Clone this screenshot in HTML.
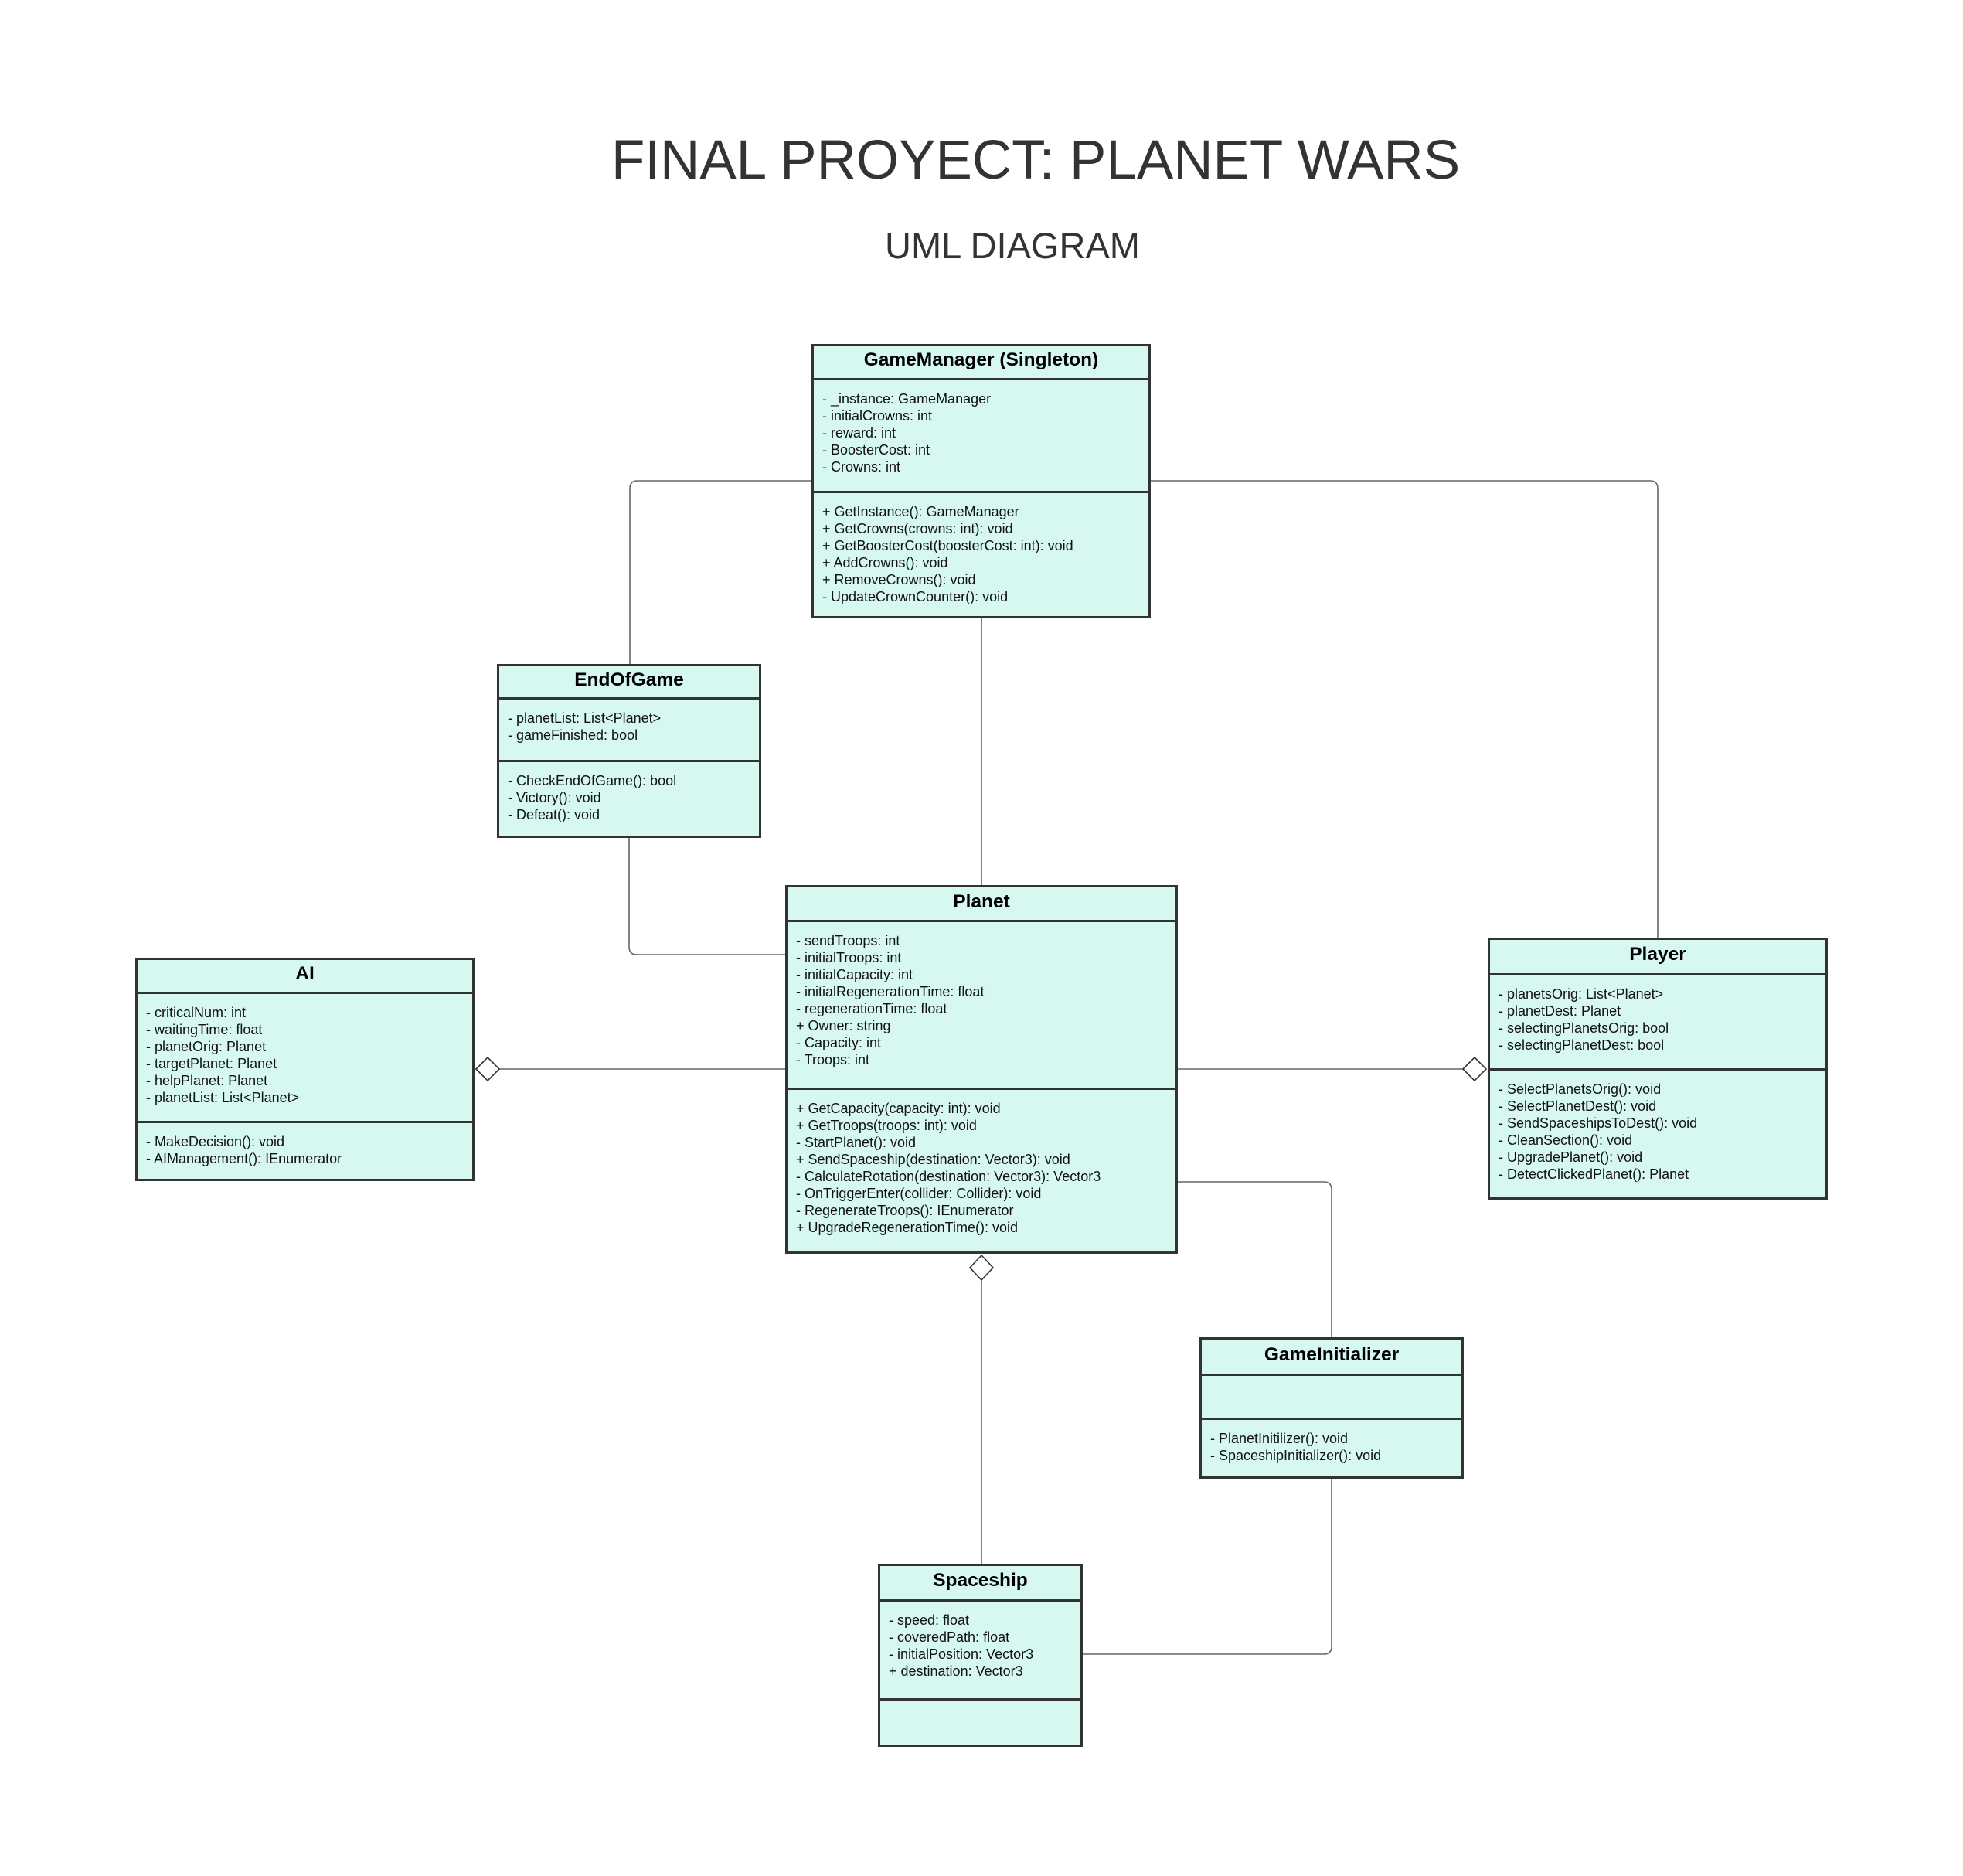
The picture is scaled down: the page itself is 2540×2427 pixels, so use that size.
<!DOCTYPE html>
<html><head><meta charset="utf-8"><style>
body{margin:0;width:2540px;height:2427px;background:#fff;position:relative;overflow:hidden;font-family:"Liberation Sans",Arial,sans-serif;}
.t{position:absolute;color:#333;white-space:nowrap;transform:translateX(-50%);line-height:1;}
.box{position:absolute;border:3px solid #333;box-sizing:border-box;background:#d6f8f1;display:flex;flex-direction:column;}
.h{box-sizing:border-box;border-bottom:3px solid #333;font-weight:bold;font-size:24.5px;color:#000;display:flex;align-items:center;justify-content:center;flex:none;padding-bottom:5px;}
.a{box-sizing:border-box;border-bottom:3px solid #333;flex:none;}
.a,.m{padding:13px 11px 0 11px;font-size:18px;line-height:22px;color:#111;white-space:pre;}
.m{flex:1;}
svg{position:absolute;left:0;top:0;}
</style></head><body>
<svg width="2540" height="2427">
<g fill="none" stroke="#666" stroke-width="1.6">
<path d="M1050 622 H825 Q815 622 815 632 V859"/>
<path d="M1489 622 H2135 Q2145 622 2145 632 V1213"/>
<path d="M1270 800 V1145"/>
<path d="M814 1084 V1225 Q814 1235 824 1235 H1016"/>
<path d="M646 1383 H1016"/>
<path d="M1524 1383 H1893"/>
<path d="M1270 1656 V2023"/>
<path d="M1524 1529 H1713 Q1723 1529 1723 1539 V1730"/>
<path d="M1723 1913 V2130 Q1723 2140 1713 2140 H1401"/>
</g>
<g fill="#fff" stroke="#333" stroke-width="1.6">
<path d="M616 1383 L631 1368 L646 1383 L631 1398 Z"/>
<path d="M1893 1383 L1908 1368 L1923 1383 L1908 1398 Z"/>
<path d="M1270 1624 L1285 1640 L1270 1656 L1255 1640 Z"/>
</g>
</svg>
<div class="t" style="left:1340px;top:172px;font-size:71px;">FINAL PROYECT: PLANET WARS</div>
<div class="t" style="left:1310px;top:294px;font-size:47px;">UML DIAGRAM</div>

<div class="box" style="left:1050px;top:445px;width:439px;height:355px;">
<div class="h" style="height:44px;">GameManager (Singleton)</div>
<div class="a" style="height:146px;">- _instance: GameManager
- initialCrowns: int
- reward: int
- BoosterCost: int
- Crowns: int</div>
<div class="m">+ GetInstance(): GameManager
+ GetCrowns(crowns: int): void
+ GetBoosterCost(boosterCost: int): void
+ AddCrowns(): void
+ RemoveCrowns(): void
- UpdateCrownCounter(): void</div>
</div>

<div class="box" style="left:643px;top:859px;width:342px;height:225px;">
<div class="h" style="height:43px;">EndOfGame</div>
<div class="a" style="height:81px;">- planetList: List&lt;Planet&gt;
- gameFinished: bool</div>
<div class="m">- CheckEndOfGame(): bool
- Victory(): void
- Defeat(): void</div>
</div>

<div class="box" style="left:175px;top:1239px;width:439px;height:289px;">
<div class="h" style="height:44px;">AI</div>
<div class="a" style="height:167px;">- criticalNum: int
- waitingTime: float
- planetOrig: Planet
- targetPlanet: Planet
- helpPlanet: Planet
- planetList: List&lt;Planet&gt;</div>
<div class="m">- MakeDecision(): void
- AIManagement(): IEnumerator</div>
</div>

<div class="box" style="left:1016px;top:1145px;width:508px;height:477px;">
<div class="h" style="height:45px;">Planet</div>
<div class="a" style="height:217px;">- sendTroops: int
- initialTroops: int
- initialCapacity: int
- initialRegenerationTime: float
- regenerationTime: float
+ Owner: string
- Capacity: int
- Troops: int</div>
<div class="m">+ GetCapacity(capacity: int): void
+ GetTroops(troops: int): void
- StartPlanet(): void
+ SendSpaceship(destination: Vector3): void
- CalculateRotation(destination: Vector3): Vector3
- OnTriggerEnter(collider: Collider): void
- RegenerateTroops(): IEnumerator
+ UpgradeRegenerationTime(): void</div>
</div>

<div class="box" style="left:1925px;top:1213px;width:440px;height:339px;">
<div class="h" style="height:46px;">Player</div>
<div class="a" style="height:123px;">- planetsOrig: List&lt;Planet&gt;
- planetDest: Planet
- selectingPlanetsOrig: bool
- selectingPlanetDest: bool</div>
<div class="m">- SelectPlanetsOrig(): void
- SelectPlanetDest(): void
- SendSpaceshipsToDest(): void
- CleanSection(): void
- UpgradePlanet(): void
- DetectClickedPlanet(): Planet</div>
</div>

<div class="box" style="left:1552px;top:1730px;width:342px;height:183px;">
<div class="h" style="height:47px;">GameInitializer</div>
<div class="a" style="height:57px;"></div>
<div class="m">- PlanetInitilizer(): void
- SpaceshipInitializer(): void</div>
</div>

<div class="box" style="left:1136px;top:2023px;width:265px;height:237px;">
<div class="h" style="height:46px;">Spaceship</div>
<div class="a" style="height:128px;">- speed: float
- coveredPath: float
- initialPosition: Vector3
+ destination: Vector3</div>
<div class="m"></div>
</div>
</body></html>
